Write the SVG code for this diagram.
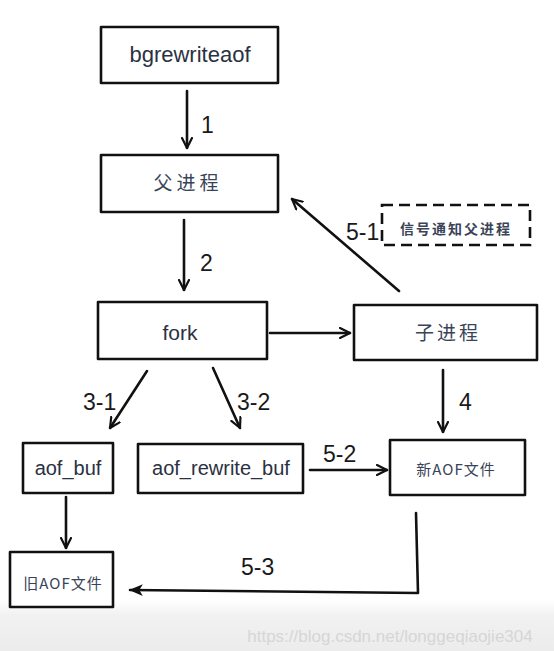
<svg xmlns="http://www.w3.org/2000/svg" width="554" height="651" viewBox="0 0 554 651">
<defs>
<marker id="arr" viewBox="0 0 12 12" refX="11" refY="6" markerWidth="12" markerHeight="12" markerUnits="userSpaceOnUse" orient="auto">
<path d="M1,1 L11,6 L1,11" fill="none" stroke="#111" stroke-width="2.2" stroke-linecap="round" stroke-linejoin="round"/>
</marker>
<marker id="tri" viewBox="0 0 12 12" refX="11" refY="6" markerWidth="14" markerHeight="14" markerUnits="userSpaceOnUse" orient="auto">
<path d="M0,1 L12,6 L0,11 L3,6 Z" fill="#111"/>
</marker>
<linearGradient id="bg" x1="0" y1="0" x2="0" y2="1">
<stop offset="0" stop-color="#ffffff"/>
<stop offset="0.3" stop-color="#f1f1f1"/>
<stop offset="1" stop-color="#ececec"/>
</linearGradient>
</defs>
<style>
.box{fill:#fff;stroke:#111;stroke-width:2.6;stroke-linejoin:round}
.dash{fill:#fff;stroke:#111;stroke-width:2.6;stroke-dasharray:11 6}
.en{font-family:"Liberation Sans","DejaVu Sans",sans-serif;fill:#2a3142;text-anchor:middle}
.cn{font-family:"Noto Sans CJK SC","Noto Sans",sans-serif;fill:#3a4458;text-anchor:middle}
.lbl{font-family:"Liberation Sans","DejaVu Sans",sans-serif;fill:#1a1a1a;font-size:23px}
.con{fill:none;stroke:#111;stroke-width:2.6;stroke-linecap:round;stroke-linejoin:round}
</style>
<rect x="0" y="0" width="554" height="651" fill="#fff"/>
<rect x="0" y="600" width="554" height="51" fill="url(#bg)"/>
<text x="390" y="642" font-family="Liberation Sans,sans-serif" font-size="17" fill="#d6d6d6" text-anchor="middle">https://blog.csdn.net/longgeqiaojie304</text>

<g id="connectors">
<line class="con" x1="187" y1="91" x2="187" y2="148" marker-end="url(#arr)"/>
<line class="con" x1="184" y1="220" x2="184" y2="290" marker-end="url(#arr)"/>
<line class="con" x1="270" y1="333" x2="350" y2="333" marker-end="url(#arr)"/>
<line class="con" x1="399" y1="291" x2="292" y2="199" marker-end="url(#arr)"/>
<line class="con" x1="147" y1="371" x2="110" y2="428" marker-end="url(#arr)"/>
<line class="con" x1="213" y1="368" x2="240" y2="428" marker-end="url(#arr)"/>
<line class="con" x1="443" y1="370" x2="443" y2="432" marker-end="url(#arr)"/>
<line class="con" x1="310" y1="470" x2="387" y2="470" marker-end="url(#arr)"/>
<line class="con" x1="66" y1="497" x2="66" y2="548" marker-end="url(#arr)"/>
<path class="con" d="M416,513 L418,593 L130,590" marker-end="url(#tri)"/>
<text class="lbl" x="201" y="133">1</text>
<text class="lbl" x="200" y="271">2</text>
<text class="lbl" x="346" y="240">5-1</text>
<text class="lbl" x="83" y="410">3-1</text>
<text class="lbl" x="237" y="410">3-2</text>
<text class="lbl" x="459" y="410">4</text>
<text class="lbl" x="323" y="462">5-2</text>
<text class="lbl" x="241" y="575">5-3</text>
</g>

<g id="bgrewriteaof">
<rect class="box" x="101" y="27" width="177" height="56"/>
<text class="en" x="190" y="62" font-size="22">bgrewriteaof</text>
</g>
<g id="parent">
<rect class="box" x="101" y="155" width="177" height="57"/>
<text class="cn" x="188" y="190" font-size="19" letter-spacing="4">父进程</text>
</g>
<g id="signal">
<rect class="dash" x="382" y="205" width="148" height="40"/>
<text class="cn" x="456" y="234" font-size="14" font-weight="bold" letter-spacing="2">信号通知父进程</text>
</g>
<g id="fork">
<rect class="box" x="98" y="302" width="169" height="57"/>
<text class="en" x="180" y="340" font-size="21">fork</text>
</g>
<g id="child">
<rect class="box" x="354" y="305" width="183" height="55"/>
<text class="cn" x="448" y="340" font-size="19" letter-spacing="3">子进程</text>
</g>
<g id="aof_buf">
<rect class="box" x="23" y="443" width="90" height="50"/>
<text class="en" x="68" y="475" font-size="20">aof_buf</text>
</g>
<g id="aof_rewrite_buf">
<rect class="box" x="138" y="444" width="165" height="49"/>
<text class="en" x="221" y="475" font-size="20">aof_rewrite_buf</text>
</g>
<g id="newaof">
<rect class="box" x="390" y="440" width="135" height="55"/>
<text class="cn" x="456" y="475" font-size="15" letter-spacing="1">新AOF文件</text>
</g>
<g id="oldaof">
<rect class="box" x="10" y="552" width="103" height="55"/>
<text class="cn" x="63" y="589" font-size="15" letter-spacing="1">旧AOF文件</text>
</g>
</svg>
